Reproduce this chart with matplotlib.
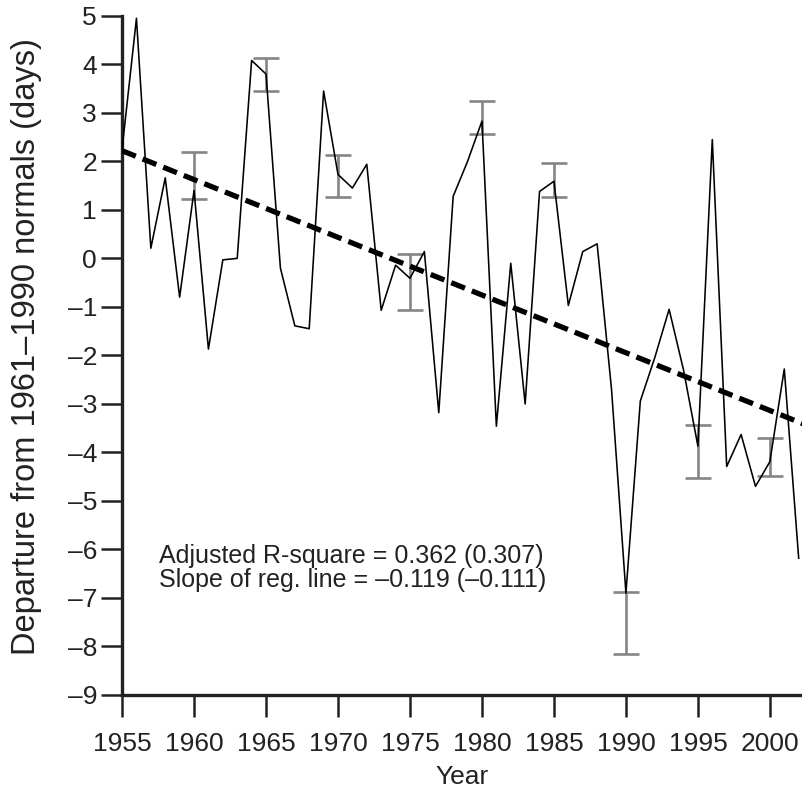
import numpy as np
import matplotlib
matplotlib.use("Agg")
import matplotlib.pyplot as plt

plt.rcParams['font.family'] = ['Liberation Sans', 'DejaVu Sans']

years = list(range(1955, 2003))
departure = [2.25, 4.95, 0.21, 1.66, -0.80, 1.40, -1.87, -0.03, 0.00, 4.08,
             3.80, -0.20, -1.39, -1.45, 3.45, 1.73, 1.45, 1.94, -1.07, -0.14,
             -0.41, 0.14, -3.18, 1.28, 2.00, 2.83, -3.46, -0.10, -3.00, 1.38,
             1.59, -0.97, 0.14, 0.30, -2.70, -6.90, -2.94, -2.05, -1.05, -2.30,
             -3.87, 2.45, -4.29, -3.63, -4.70, -4.19, -2.28, -6.18]

# error bars every 5 years (lower / upper ends)
err_years = [1960, 1965, 1970, 1975, 1980, 1985, 1990, 1995, 2000]
err_lo = [1.22, 3.45, 1.27, -1.07, 2.56, 1.26, -8.15, -4.53, -4.48]
err_hi = [2.20, 4.13, 2.14, 0.10, 3.25, 1.97, -6.88, -3.43, -3.71]

# regression line
reg_start = 2.22
reg_slope = -0.119

ink = '#222222'

fig = plt.figure(figsize=(8.03, 7.92), dpi=100)
ax = fig.add_axes([0.152, 0.1225, 0.848, 0.8575])

ax.plot(years, departure, color='black', lw=1.15, zorder=3)

lo = np.array(err_lo)
hi = np.array(err_hi)
ax.errorbar(err_years, (lo + hi) / 2, yerr=(hi - lo) / 2, fmt='none',
            ecolor='#858585', elinewidth=1.9, capsize=9.5, capthick=1.9, zorder=2)

reg_x = np.array([1955, 2002.3])
reg_y = reg_start + reg_slope * (reg_x - 1955)
ax.plot(reg_x, reg_y, color='black', lw=3.8, dashes=(2.8, 1.4), zorder=4)

ax.set_xlim(1955, 2002.3)
ax.set_ylim(-9, 5)
ax.set_xticks(range(1955, 2001, 5))
ax.set_yticks(range(-9, 6))
ax.set_yticklabels([str(v).replace('-', '\u2013') for v in range(-9, 6)])

for side in ['top', 'right']:
    ax.spines[side].set_visible(False)
for side in ['left', 'bottom']:
    ax.spines[side].set_linewidth(2.4)
    ax.spines[side].set_color(ink)

ax.tick_params(axis='y', length=15, width=1.8, color=ink, labelsize=19,
               labelcolor=ink, pad=3)
ax.tick_params(axis='x', length=16, width=1.8, color=ink, labelsize=19,
               labelcolor=ink, pad=11)

ax.set_xlabel('Year', fontsize=19, color=ink, labelpad=6)
fig.text(27 / 803, 1 - 347 / 792, 'Departure from 1961\u20131990 normals (days)',
         fontsize=23.5, color=ink, rotation=90, ha='center', va='center')

ax.text(1957.6, -6.38, 'Adjusted R-square = 0.362 (0.307)\n'
        'Slope of reg. line = \u20130.119 (\u20130.111)',
        fontsize=18, color=ink, va='center', ha='left', linespacing=1.0)

fig.savefig('out.png', dpi=100)
